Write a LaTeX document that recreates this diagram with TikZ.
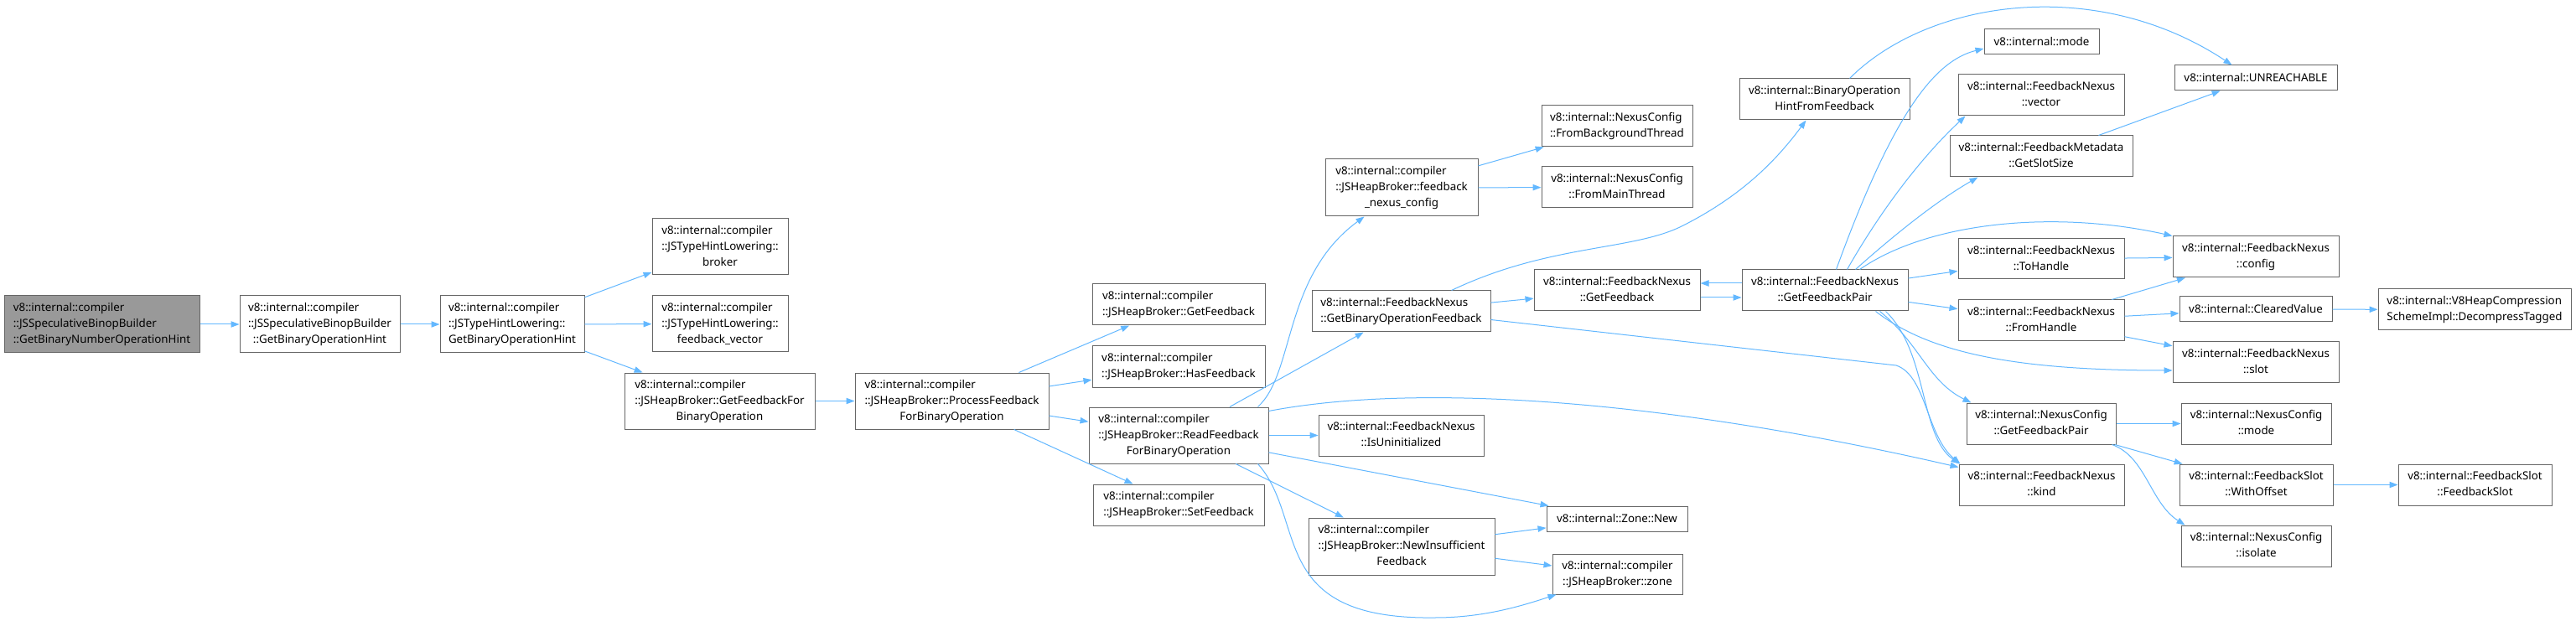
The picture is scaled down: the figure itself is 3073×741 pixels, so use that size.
\documentclass[tikz,border=0pt]{standalone}
\usepackage{fontspec}
\setmainfont{Noto Sans}
\usetikzlibrary{arrows.meta,calc}
\definecolor{edgec}{HTML}{63B8FF}
\definecolor{bordc}{HTML}{666666}
\definecolor{greyf}{HTML}{999999}
\newcommand{\LB}[2]{\begin{tabular}{@{}l@{}}#1\\\multicolumn{1}{@{}c@{}}{#2}\end{tabular}}
\newcommand{\mkbox}[7][]{%
 \pgfmathsetmacro\mbcx{(#3+#5)/2}%
 \pgfmathsetmacro\mbcy{(#4+#6)/2}%
 \pgfmathsetmacro\mbw{(#5-#3)*0.75}%
 \pgfmathsetmacro\mbh{(#6-#4)*0.75}%
 \node[box,#1,minimum width=\mbw pt,minimum height=\mbh pt] (#2) at (\mbcx,\mbcy) {#7};}
\begin{document}
\begin{tikzpicture}[x=0.75pt,y=-0.75pt,
 box/.style={draw=bordc,line width=0.75pt,fill=white,inner sep=0pt,font=\fontsize{10}{14.25}\selectfont},
 edge/.style={draw=edgec,line width=0.75pt,-{Triangle[length=7.5pt,width=5.5pt]}}]
\fill[white] (0,0) rectangle (3073,741);
\useasboundingbox (0,0) rectangle (3073,741);

\mkbox[fill=greyf]{n0}{5}{353}{238}{421}{\begin{tabular}{@{}l@{}}v8::internal::compiler\\::JSSpeculativeBinopBuilder\\::GetBinaryNumberOperationHint\end{tabular}}
\mkbox{n1}{286}{353}{477}{421}{\LB{v8::internal::compiler\\::JSSpeculativeBinopBuilder}{::GetBinaryOperationHint}}
\mkbox{n2}{525}{353}{697}{421}{\LB{v8::internal::compiler\\::JSTypeHintLowering::}{GetBinaryOperationHint}}
\mkbox{broker}{778}{261}{940}{328}{\LB{v8::internal::compiler\\::JSTypeHintLowering::}{broker}}
\mkbox{fbvec}{778}{353}{940}{420}{\LB{v8::internal::compiler\\::JSTypeHintLowering::}{feedback\_vector}}
\mkbox{gffbo}{745}{445}{972}{512}{\LB{v8::internal::compiler\\::JSHeapBroker::GetFeedbackFor}{BinaryOperation}}
\mkbox{pfbo}{1020}{445}{1251}{512}{\LB{v8::internal::compiler\\::JSHeapBroker::ProcessFeedback}{ForBinaryOperation}}
\mkbox{jgf}{1303}{339}{1509}{388}{\LB{v8::internal::compiler}{::JSHeapBroker::GetFeedback}}
\mkbox{jhf}{1303}{413}{1509}{462}{\LB{v8::internal::compiler}{::JSHeapBroker::HasFeedback}}
\mkbox{rfbo}{1299}{486}{1513}{553}{\LB{v8::internal::compiler\\::JSHeapBroker::ReadFeedback}{ForBinaryOperation}}
\mkbox{jsf}{1304}{578}{1508}{627}{\LB{v8::internal::compiler}{::JSHeapBroker::SetFeedback}}
\mkbox{fnc}{1581}{190}{1763}{258}{\LB{v8::internal::compiler\\::JSHeapBroker::feedback}{\_nexus\_config}}
\mkbox{gbof}{1565}{347}{1778}{396}{\LB{v8::internal::FeedbackNexus}{::GetBinaryOperationFeedback}}
\mkbox{isu}{1573}{495}{1770}{544}{\LB{v8::internal::FeedbackNexus}{::IsUninitialized}}
\mkbox{nif}{1561}{618}{1783}{686}{\LB{v8::internal::compiler\\::JSHeapBroker::NewInsufficient}{Feedback}}
\mkbox{fbt}{1839}{126}{2019}{175}{\LB{v8::internal::NexusConfig}{::FromBackgroundThread}}
\mkbox{fmt}{1839}{199}{2019}{248}{\LB{v8::internal::NexusConfig}{::FromMainThread}}
\mkbox{fngf}{1830}{322}{2028}{371}{\LB{v8::internal::FeedbackNexus}{::GetFeedback}}
\mkbox{zn}{1845}{604}{2013}{634}{v8::internal::Zone::New}
\mkbox{jz}{1852}{661}{2007}{709}{\LB{v8::internal::compiler}{::JSHeapBroker::zone}}
\mkbox{bohff}{2075}{94}{2278}{143}{\LB{v8::internal::BinaryOperation}{HintFromFeedback}}
\mkbox{fngfp}{2078}{322}{2276}{371}{\LB{v8::internal::FeedbackNexus}{::GetFeedbackPair}}
\mkbox{mode}{2367}{35}{2504}{65}{v8::internal::mode}
\mkbox{vec}{2336}{89}{2534}{138}{\LB{v8::internal::FeedbackNexus}{::vector}}
\mkbox{gss}{2326}{162}{2544}{211}{\LB{v8::internal::FeedbackMetadata}{::GetSlotSize}}
\mkbox{toh}{2336}{285}{2534}{333}{\LB{v8::internal::FeedbackNexus}{::ToHandle}}
\mkbox{fromh}{2336}{358}{2534}{407}{\LB{v8::internal::FeedbackNexus}{::FromHandle}}
\mkbox{ncgfp}{2346}{481}{2524}{530}{\LB{v8::internal::NexusConfig}{::GetFeedbackPair}}
\mkbox{kind}{2337}{554}{2534}{603}{\LB{v8::internal::FeedbackNexus}{::kind}}
\mkbox{unr}{2594}{78}{2788}{108}{v8::internal::UNREACHABLE}
\mkbox{cfg}{2592}{282}{2790}{331}{\LB{v8::internal::FeedbackNexus}{::config}}
\mkbox{cv}{2600}{354}{2782}{384}{v8::internal::ClearedValue}
\mkbox{slot}{2592}{408}{2790}{456}{\LB{v8::internal::FeedbackNexus}{::slot}}
\mkbox{ncmode}{2602}{481}{2781}{530}{\LB{v8::internal::NexusConfig}{::mode}}
\mkbox{wo}{2600}{554}{2783}{603}{\LB{v8::internal::FeedbackSlot}{::WithOffset}}
\mkbox{iso}{2602}{627}{2781}{676}{\LB{v8::internal::NexusConfig}{::isolate}}
\mkbox{dec}{2837}{345}{3067}{394}{\LB{v8::internal::V8HeapCompression}{SchemeImpl::DecompressTagged}}
\mkbox{fsfs}{2861}{554}{3044}{603}{\LB{v8::internal::FeedbackSlot}{::FeedbackSlot}}

% straight edges
\draw[edge] (n0) -- (n1);
\draw[edge] (n1) -- (n2);
\draw[edge] (n2) -- (broker);
\draw[edge] (n2) -- (fbvec);
\draw[edge] (n2) -- (gffbo);
\draw[edge] (gffbo) -- (pfbo);
\draw[edge] (pfbo) -- (jgf);
\draw[edge] (pfbo) -- (jhf);
\draw[edge] (pfbo) -- (rfbo);
\draw[edge] (pfbo) -- (jsf);
\draw[edge] (rfbo) -- (gbof);
\draw[edge] (rfbo) -- (isu);
\draw[edge] (rfbo) -- (zn);
\draw[edge] (rfbo) -- (nif);
\draw[edge] (fnc) -- (fbt);
\draw[edge] (fnc) -- (fmt);
\draw[edge] (gbof) -- (fngf);
\draw[edge] (nif) -- (zn);
\draw[edge] (nif) -- (jz);
\draw[edge] ($(fngfp.west)+(0,-8.5)$) -- ($(fngf.east)+(0,-8.5)$);
\draw[edge] ($(fngf.east)+(0,8.5)$) -- ($(fngfp.west)+(0,8.5)$);
\draw[edge] (fngfp) -- (toh);
\draw[edge] (fngfp) -- (fromh);
\draw[edge] (gss) -- (unr);
\draw[edge] (toh) -- (cfg);
\draw[edge] (fromh) -- (cfg);
\draw[edge] (fromh) -- (cv);
\draw[edge] (fromh) -- (slot);
\draw[edge] (cv) -- (dec);
\draw[edge] (ncgfp) -- (ncmode);
\draw[edge] (ncgfp) -- (wo);
\draw[edge] (wo) -- (fsfs);

% curved edges
\draw[edge] ($(rfbo.north west)+(202,0)$) .. controls (1545,445) and (1530,330) .. ($(fnc.south west)+(47,0)$);
\draw[edge] ($(rfbo.south west)+(202,0)$) .. controls (1560,620) and (1510,740) .. (1712,737) .. controls (1770,737) and (1815,723) .. ($(jz.south west)+(5,0)$);
\draw[edge] ($(rfbo.north east)+(0,5)$) .. controls (1700,455) and (2000,480) .. ($(kind.north west)+(0,4)$);
\draw[edge] ($(gbof.south east)+(0,-15)$) -- (2262,436) .. controls (2298,448) and (2298,520) .. ($(kind.north west)+(2,0)$);
\draw[edge] ($(gbof.north west)+(167,0)$) .. controls (1850,290) and (1950,300) .. (2010,268) .. controls (2080,232) and (2120,190) .. ($(bohff.south west)+(80,0)$);
\draw[edge] ($(bohff.north west)+(132,0)$) .. controls (2300,0) and (2500,-30) .. ($(unr.north west)+(69,0)$);
\draw[edge] ($(fngfp.north west)+(113,0)$) .. controls (2260,130) and (2310,72) .. ($(mode.west)+(0,8)$);
\draw[edge] ($(fngfp.north west)+(126,0)$) .. controls (2250,240) and (2300,180) .. ($(vec.south west)+(9,0)$);
\draw[edge] ($(fngfp.north west)+(136,0)$) .. controls (2260,280) and (2310,240) .. ($(gss.south west)+(34,0)$);
\draw[edge] ($(fngfp.north west)+(141,0)$) .. controls (2300,265) and (2450,250) .. (cfg.north west);
\draw[edge] ($(fngfp.south west)+(160,0)$) .. controls (2300,420) and (2400,442) .. ($(slot.west)+(0,10)$);
\draw[edge] ($(fngfp.south west)+(165,0)$) .. controls (2290,410) and (2300,455) .. ($(ncgfp.north west)+(6,0)$);
\draw[edge] ($(fngfp.south west)+(172,0)$) .. controls (2300,420) and (2290,520) .. ($(kind.north west)+(1,0)$);
\draw[edge] ($(ncgfp.south east)+(-5,0)$) .. controls (2560,545) and (2565,600) .. ($(iso.north west)+(5,0)$);
\end{tikzpicture}
\end{document}
